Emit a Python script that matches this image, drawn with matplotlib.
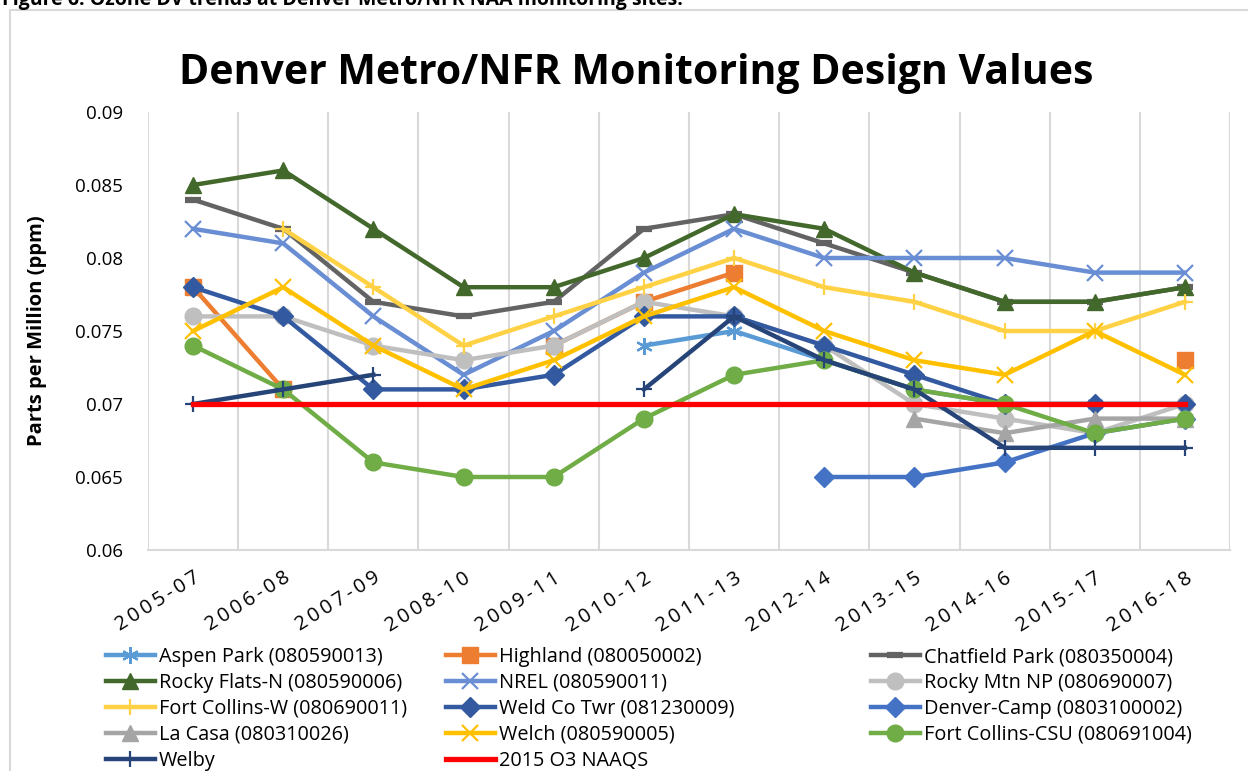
import matplotlib
matplotlib.use("Agg")
import matplotlib.pyplot as plt
from matplotlib.patches import Rectangle
import numpy as np

plt.rcParams['font.family'] = ['Open Sans', 'DejaVu Sans']

nan = np.nan
periods = ['2005-07', '2006-08', '2007-09', '2008-10', '2009-11', '2010-12',
           '2011-13', '2012-14', '2013-15', '2014-16', '2015-17', '2016-18']

aspen_park = [nan, nan, nan, nan, nan, 0.074, 0.075, 0.073, 0.071, 0.070, 0.070, 0.070]
highland = [0.078, 0.071, nan, nan, 0.074, 0.077, 0.079, nan, nan, nan, nan, 0.073]
chatfield_park = [0.084, 0.082, 0.077, 0.076, 0.077, 0.082, 0.083, 0.081, 0.079, 0.077, 0.077, 0.078]
rocky_flats = [0.085, 0.086, 0.082, 0.078, 0.078, 0.080, 0.083, 0.082, 0.079, 0.077, 0.077, 0.078]
nrel = [0.082, 0.081, 0.076, 0.072, 0.075, 0.079, 0.082, 0.080, 0.080, 0.080, 0.079, 0.079]
rocky_mtn = [0.076, 0.076, 0.074, 0.073, 0.074, 0.077, 0.076, 0.074, 0.070, 0.069, 0.068, 0.070]
fc_west = [nan, 0.082, 0.078, 0.074, 0.076, 0.078, 0.080, 0.078, 0.077, 0.075, 0.075, 0.077]
weld_co = [0.078, 0.076, 0.071, 0.071, 0.072, 0.076, 0.076, 0.074, 0.072, 0.070, 0.070, 0.070]
denver_camp = [nan, nan, nan, nan, nan, nan, nan, 0.065, 0.065, 0.066, 0.068, 0.069]
la_casa = [nan, nan, nan, nan, nan, nan, nan, nan, 0.069, 0.068, 0.069, 0.069]
welch = [0.075, 0.078, 0.074, 0.071, 0.073, 0.076, 0.078, 0.075, 0.073, 0.072, 0.075, 0.072]
fc_csu = [0.074, 0.071, 0.066, 0.065, 0.065, 0.069, 0.072, 0.073, 0.071, 0.070, 0.068, 0.069]
welby = [0.070, 0.071, 0.072, nan, nan, 0.071, 0.076, 0.073, 0.071, 0.067, 0.067, 0.067]
naaqs = [0.070] * 12

# label, values, color, marker, markersize
series = [
    ("Aspen Park (080590013)", aspen_park, "#5B9BD5", (6, 2, 0), 12),
    ("Highland (080050002)", highland, "#ED7D31", "s", 11),
    ("Chatfield Park (080350004)", chatfield_park, "#636363", "_", 12),
    ("Rocky Flats-N (080590006)", rocky_flats, "#43682B", "^", 12),
    ("NREL (080590011)", nrel, "#6A8ED3", "x", 11),
    ("Rocky Mtn NP (080690007)", rocky_mtn, "#BFBFBF", "o", 12),
    ("Fort Collins-W (080690011)", fc_west, "#FFD145", "+", 12),
    ("Weld Co Twr (081230009)", weld_co, "#335AA0", "D", 10),
    ("Denver-Camp (0803100002)", denver_camp, "#4472C4", "D", 10),
    ("La Casa (080310026)", la_casa, "#A5A5A5", "^", 12),
    ("Welch (080590005)", welch, "#FFC000", "x", 11),
    ("Fort Collins-CSU (080691004)", fc_csu, "#70AD47", "o", 12),
    ("Welby", welby, "#264478", "+", 12),
]

fig = plt.figure(figsize=(12.48, 7.71), dpi=100)
ax = fig.add_axes([148 / 1248, 1 - 550 / 771, (1230 - 148) / 1248, (550 - 112) / 771])

x = np.arange(len(periods))
handles = []
for label, vals, color, marker, ms in series:
    h, = ax.plot(x, vals, color=color, lw=3.2, marker=marker, markersize=ms,
                 markeredgewidth=1.6 if marker in ["x", "+", "_", (6, 2, 0)] else 1,
                 markerfacecolor=color, markeredgecolor=color, label=label)
    if marker == "_":
        h.set_markeredgewidth(4.5)
    handles.append(h)
h, = ax.plot(x, naaqs, color="#FF0000", lw=3.8, label="2015 O3 NAAQS")
handles.append(h)

ax.set_xlim(-0.5, 11.5)
ax.set_ylim(0.06, 0.09)
ax.set_yticks(np.arange(0.06, 0.0901, 0.005))
ax.set_yticklabels(["0.06", "0.065", "0.07", "0.075", "0.08", "0.085", "0.09"], fontsize=13.5)
ax.set_xticks(x)
# the source spreads the letters of the period labels a little
spaced = ["\u2009".join(p) for p in periods]
ax.set_xticklabels(spaced, fontsize=14.5, rotation=32, ha="right", rotation_mode="anchor")
ax.set_xticks(np.arange(-0.5, 12, 1), minor=True)
ax.tick_params(axis="both", which="both", length=0)
ax.tick_params(axis="x", pad=13)
ax.tick_params(axis="y", pad=18)
ax.grid(which="minor", axis="x", color="#D9D9D9", lw=1.5)
ax.grid(which="major", axis="x", visible=False)
for side in ["top", "right", "left"]:
    ax.spines[side].set_visible(False)
ax.spines["bottom"].set_color("#D9D9D9")
ax.spines["bottom"].set_linewidth(1.5)
ax.set_ylabel("Parts per Million (ppm)", fontsize=14.5, fontweight="bold", labelpad=20)

fig.text(636 / 1248, 1 - 73 / 771, "Denver Metro/NFR Monitoring Design Values",
         fontsize=29.5, fontweight="bold", ha="center", va="center")
fig.text(2 / 1248, 1 - 5 / 771, "Figure 6. Ozone DV trends at Denver Metro/NFR NAA monitoring sites.",
         fontsize=14, fontweight="bold", ha="left", va="baseline")

fig.patches.append(Rectangle((10 / 1248, -0.05), 1.1, 1 - 10 / 771 + 0.05,
                             transform=fig.transFigure, fill=False,
                             edgecolor="#D9D9D9", lw=1.5))

# legend in three columns, laid out like the source
cols = [[0, 3, 6, 9, 12], [1, 4, 7, 10, 13], [2, 5, 8, 11]]
col_x = [106, 446, 871]
for cx, idx in zip(col_x, cols):
    leg = fig.legend([handles[i] for i in idx], [handles[i].get_label() for i in idx],
                     loc="upper left", bbox_to_anchor=(cx / 1248, 1 - 647 / 771),
                     frameon=False, fontsize=14.3, handlelength=2.45, handletextpad=0.22,
                     labelspacing=0.3, borderpad=0, borderaxespad=0, numpoints=1)

fig.savefig("out.png", dpi=100)
